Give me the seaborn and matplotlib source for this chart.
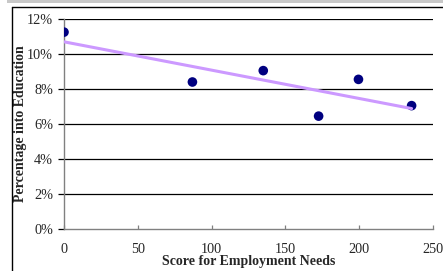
import matplotlib
matplotlib.use("Agg")
import matplotlib.pyplot as plt
from matplotlib.lines import Line2D
from matplotlib.patches import Rectangle
from matplotlib.ticker import PercentFormatter
import pandas as pd
import seaborn as sns

# data
employment_score = [0, 87, 135, 172.5, 199.5, 235.5]
pct_into_education = [11.25, 8.4, 9.05, 6.45, 8.55, 7.05]
x_ticks = [0, 50, 100, 150, 200, 250]
y_ticks = [0, 2, 4, 6, 8, 10, 12]

df = pd.DataFrame({"score": employment_score, "pct": pct_into_education})

sns.set_style("white")
plt.rcParams["font.family"] = ["Liberation Serif", "DejaVu Serif"]

W, H = 443, 271
fig = plt.figure(figsize=(W / 100, H / 100), dpi=100)
ax = fig.add_axes([64 / W, 1 - 229 / H, (433 - 64) / W, (229 - 19) / H])

sns.scatterplot(data=df, x="score", y="pct", color="#000080", s=48,
                edgecolor="none", ax=ax, zorder=3)
sns.regplot(data=df, x="score", y="pct", scatter=False, ci=None,
            color="#CC99FF", line_kws={"linewidth": 2.2, "zorder": 4}, ax=ax)

ax.set_xlim(0, 250)
ax.set_ylim(0, 12)
ax.set_xticks(x_ticks)
ax.set_yticks(y_ticks)
ax.yaxis.set_major_formatter(PercentFormatter(xmax=100, decimals=0))

for y in y_ticks[1:]:
    ax.axhline(y, color="black", linewidth=0.9, zorder=1)

for side in ["top", "right"]:
    ax.spines[side].set_visible(False)
for side in ["left", "bottom"]:
    ax.spines[side].set_color("#808080")
    ax.spines[side].set_linewidth(1.0)

ax.tick_params(axis="y", direction="out", length=4, width=0.9, color="black",
               pad=4, labelsize=10.3)
ax.tick_params(axis="x", direction="in", length=3, width=0.9, color="#808080",
               pad=10, labelsize=10.3)
ax.tick_params(left=True, bottom=True)

ax.set_xlabel("Score for Employment Needs", fontsize=10, fontweight="bold",
              labelpad=-1)
ax.set_ylabel("Percentage into Education", fontsize=10, fontweight="bold",
              labelpad=0)

# outer frame bits of the original screenshot
fig.add_artist(Rectangle((7 / W, 1 - 2.5 / H), 1, 2.5 / H,
                         transform=fig.transFigure, color="#C8C8C8", lw=0))
fig.add_artist(Line2D([12 / W, 1], [1 - 6.5 / H, 1 - 6.5 / H],
                      transform=fig.transFigure, color="black", lw=1))
fig.add_artist(Line2D([12 / W, 12 / W], [0, 1 - 6.5 / H],
                      transform=fig.transFigure, color="black", lw=1))

fig.savefig("out.png", dpi=100)
